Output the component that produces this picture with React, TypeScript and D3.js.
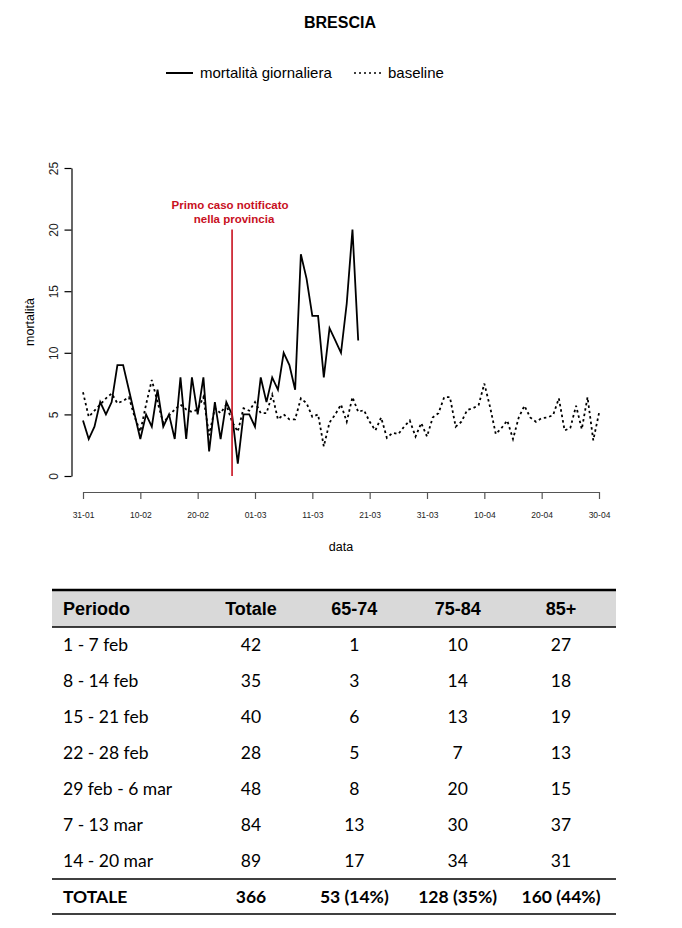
import React, { useRef, useEffect } from 'react';
import * as d3 from 'd3';

// ── chart data (Brescia, 31 Jan → 30 Apr 2020) ──────────────────────────────
const startDay = '31-01-2020';
const firstCaseDay = '26-02-2020';
const xTickLabels = ['31-01', '10-02', '20-02', '01-03', '11-03', '21-03', '31-03', '10-04', '20-04', '30-04'];
const yTicks = [0, 5, 10, 15, 20, 25];

// daily deaths, one value per day from 31-01
const mortality = [
    4.5, 3, 4, 6, 5, 6, 9, 9,
    7, 5, 3, 5, 4, 7, 4,
    5, 3, 8, 3, 8, 5, 8,
    2, 6, 3, 6, 5, 1, 5,
    5, 4, 8, 6, 8, 7, 10,
    9, 7, 18, 16, 13, 13, 8,
    12, 11, 10, 14, 20, 11,
];

// baseline, one value per day from 31-01 to 30-04
const baseline = [
    6.8, 4.8, 5.3, 5.8, 6.3, 6.7, 5.9, 6.1, 6.4, 4.8,
    3.6, 5.8, 7.8, 6.0, 4.3, 4.9, 5.4, 5.8, 5.4, 5.2,
    5.4, 6.4, 3.3, 5.5, 5.1, 5.8, 4.4, 3.6, 5.5, 5.3,
    6.0, 5.1, 5.1, 6.6, 4.6, 5.0, 4.6, 4.6, 6.3, 5.9,
    4.8, 5.0, 2.4, 4.35, 5.0, 5.8, 4.4, 6.4, 5.2, 5.35,
    4.4, 3.7, 4.75, 3.1, 3.5, 3.4, 4.0, 4.5, 3.2, 4.3,
    3.2, 4.75, 5.1, 6.4, 6.4, 4.0, 4.4, 5.35, 5.5, 5.75,
    7.5, 5.6, 3.4, 3.9, 4.5, 3.0, 4.75, 5.7, 4.75, 4.4,
    4.7, 4.75, 4.95, 6.3, 3.7, 3.9, 5.7, 3.8, 6.4, 2.9,
    5.1,
];

// ── table data ──────────────────────────────────────────────────────────────
const tableHeader = ['Periodo', 'Totale', '65-74', '75-84', '85+'];
const periods = ['1 - 7 feb', '8 - 14 feb', '15 - 21 feb', '22 - 28 feb', '29 feb - 6 mar', '7 - 13 mar', '14 - 20 mar'];
const totale = [42, 35, 40, 28, 48, 84, 89];
const age6574 = [1, 3, 6, 5, 8, 13, 17];
const age7584 = [10, 14, 13, 7, 20, 30, 34];
const age85 = [27, 18, 19, 13, 15, 37, 31];
const totalRow = ['TOTALE', '366', '53 (14%)', '128 (35%)', '160 (44%)'];

const W = 682;
const H = 928;
const ARIAL = '"Liberation Sans", Arial, sans-serif';
const CALIBRI = 'Lato, "Open Sans", sans-serif';
const RED = '#c8101e';

const parseDay = d3.timeParse('%d-%m-%Y');

const App: React.FC = () => {
    const ref = useRef<SVGSVGElement | null>(null);

    useEffect(() => {
        if (!ref.current) return;
        const svg = d3.select(ref.current);
        svg.selectAll('*').remove();

        const t0 = parseDay(startDay)!;
        const dayOf = (i: number) => d3.timeDay.offset(t0, i);
        const tickDates = xTickLabels.map(l => parseDay(`${l}-2020`)!);

        const x = d3.scaleTime()
            .domain([tickDates[0], tickDates[tickDates.length - 1]])
            .range([83, 599]);
        const y = d3.scaleLinear().domain([0, 25]).range([476, 168]);

        // ── title + legend ──
        svg.append('text')
            .attr('x', 340).attr('y', 28)
            .attr('text-anchor', 'middle')
            .style('font-family', ARIAL).style('font-weight', 700).style('font-size', '16px')
            .text('BRESCIA');

        const lg = svg.append('g').attr('transform', 'translate(0,73)');
        lg.append('line').attr('x1', 166).attr('x2', 193).attr('stroke', '#000').attr('stroke-width', 2);
        lg.append('text').attr('x', 200).attr('y', 5)
            .style('font-family', ARIAL).style('font-size', '15px')
            .text('mortalità giornaliera');
        lg.append('line').attr('x1', 354).attr('x2', 383)
            .attr('stroke', '#000').attr('stroke-width', 1.6).attr('stroke-dasharray', '2,3');
        lg.append('text').attr('x', 388).attr('y', 5)
            .style('font-family', ARIAL).style('font-size', '15px')
            .text('baseline');

        // ── axes ──
        const xAxis = svg.append('g')
            .attr('transform', 'translate(0,492)')
            .call(d3.axisBottom(x)
                .tickValues(tickDates)
                .tickFormat((_, i) => xTickLabels[i])
                .tickSize(7).tickSizeOuter(0).tickPadding(13));
        xAxis.selectAll('path, line').attr('stroke', '#555').attr('stroke-width', 1.2);
        xAxis.selectAll('text')
            .style('font-family', ARIAL).style('font-size', '8.5px').attr('fill', '#222');

        const yAxis = svg.append('g')
            .attr('transform', 'translate(71.5,0)')
            .call(d3.axisLeft(y).tickValues(yTicks).tickSize(7).tickSizeOuter(0));
        yAxis.selectAll('path, line').attr('stroke', '#000').attr('stroke-width', 1.2);
        yAxis.selectAll('text').remove();
        yAxis.selectAll('g.tick')
            .append('text')
            .attr('transform', 'translate(-14,0) rotate(-90)')
            .attr('text-anchor', 'middle')
            .attr('fill', '#222')
            .style('font-family', ARIAL).style('font-size', '12px')
            .text(d => String(d));

        svg.append('text')
            .attr('transform', `translate(34,${(y(0) + y(25)) / 2}) rotate(-90)`)
            .attr('text-anchor', 'middle')
            .style('font-family', ARIAL).style('font-size', '12.5px')
            .text('mortalità');
        svg.append('text')
            .attr('x', (x.range()[0] + x.range()[1]) / 2).attr('y', 551)
            .attr('text-anchor', 'middle')
            .style('font-family', ARIAL).style('font-size', '12.5px')
            .text('data');

        // ── series ──
        const line = d3.line<number>()
            .x((_, i) => x(dayOf(i)))
            .y(d => y(d));

        svg.append('path')
            .datum(baseline)
            .attr('fill', 'none').attr('stroke', '#000')
            .attr('stroke-width', 1.8).attr('stroke-dasharray', '2.5,3')
            .attr('d', line);

        svg.append('path')
            .datum(mortality)
            .attr('fill', 'none').attr('stroke', '#000')
            .attr('stroke-width', 1.8).attr('stroke-linejoin', 'miter')
            .attr('d', line);

        // ── first case marker ──
        const fc = x(parseDay(firstCaseDay)!);
        svg.append('line')
            .attr('x1', fc).attr('x2', fc).attr('y1', y(20)).attr('y2', y(0))
            .attr('stroke', RED).attr('stroke-width', 1.6);
        const note = svg.append('text')
            .attr('text-anchor', 'middle')
            .attr('fill', RED)
            .style('font-family', ARIAL).style('font-weight', 700).style('font-size', '11.5px');
        note.append('tspan').attr('x', fc - 2).attr('y', 209).text('Primo caso notificato');
        note.append('tspan').attr('x', fc + 2).attr('y', 223).text('nella provincia');

        // ── table ──
        const colX = d3.scalePoint<number>().domain([1, 2, 3, 4]).range([251, 561]);
        const rowY = d3.scaleBand<number>()
            .domain(d3.range(periods.length + 1))
            .range([627, 879 + 36]);
        const tx = (c: number) => (c === 0 ? 63 : colX(c)!);
        const anchor = (c: number) => (c === 0 ? 'start' : 'middle');

        const tbl = svg.append('g');
        tbl.append('rect').attr('x', 52).attr('y', 590).attr('width', 564).attr('height', 37).attr('fill', '#d9d9d9');
        tbl.append('line').attr('x1', 52).attr('x2', 616).attr('y1', 590).attr('y2', 590).attr('stroke', '#000').attr('stroke-width', 2.5);
        tbl.append('line').attr('x1', 52).attr('x2', 616).attr('y1', 627).attr('y2', 627).attr('stroke', '#000').attr('stroke-width', 1.5);

        tableHeader.forEach((h, c) => {
            tbl.append('text')
                .attr('x', tx(c)).attr('y', 615)
                .attr('text-anchor', anchor(c))
                .style('font-family', ARIAL).style('font-weight', 700).style('font-size', '18px')
                .text(h);
        });

        const rows = periods.map((p, i) => [p, totale[i], age6574[i], age7584[i], age85[i]].map(String));
        rows.forEach((r, i) => {
            const cy = rowY(i)! + rowY.bandwidth() / 2;
            r.forEach((v, c) => {
                tbl.append('text')
                    .attr('x', tx(c)).attr('y', cy + 6)
                    .attr('text-anchor', anchor(c))
                    .style('font-family', CALIBRI).style('font-size', '17.5px')
                    .text(v);
            });
        });

        const ty = rowY(periods.length)! + rowY.bandwidth() / 2;
        tbl.append('line').attr('x1', 52).attr('x2', 616).attr('y1', 879).attr('y2', 879).attr('stroke', '#000').attr('stroke-width', 1.5);
        tbl.append('line').attr('x1', 52).attr('x2', 616).attr('y1', 914).attr('y2', 914).attr('stroke', '#000').attr('stroke-width', 1.5);
        totalRow.forEach((v, c) => {
            tbl.append('text')
                .attr('x', tx(c)).attr('y', ty + 6)
                .attr('text-anchor', anchor(c))
                .style('font-family', CALIBRI).style('font-weight', 700).style('font-size', '17.5px')
                .text(v);
        });
    }, []);

    return (
        <svg
            ref={ref}
            width={W}
            height={H}
            style={{ position: 'absolute', left: 0, top: 0, background: '#fff' }}
        />
    );
};

export default App;
